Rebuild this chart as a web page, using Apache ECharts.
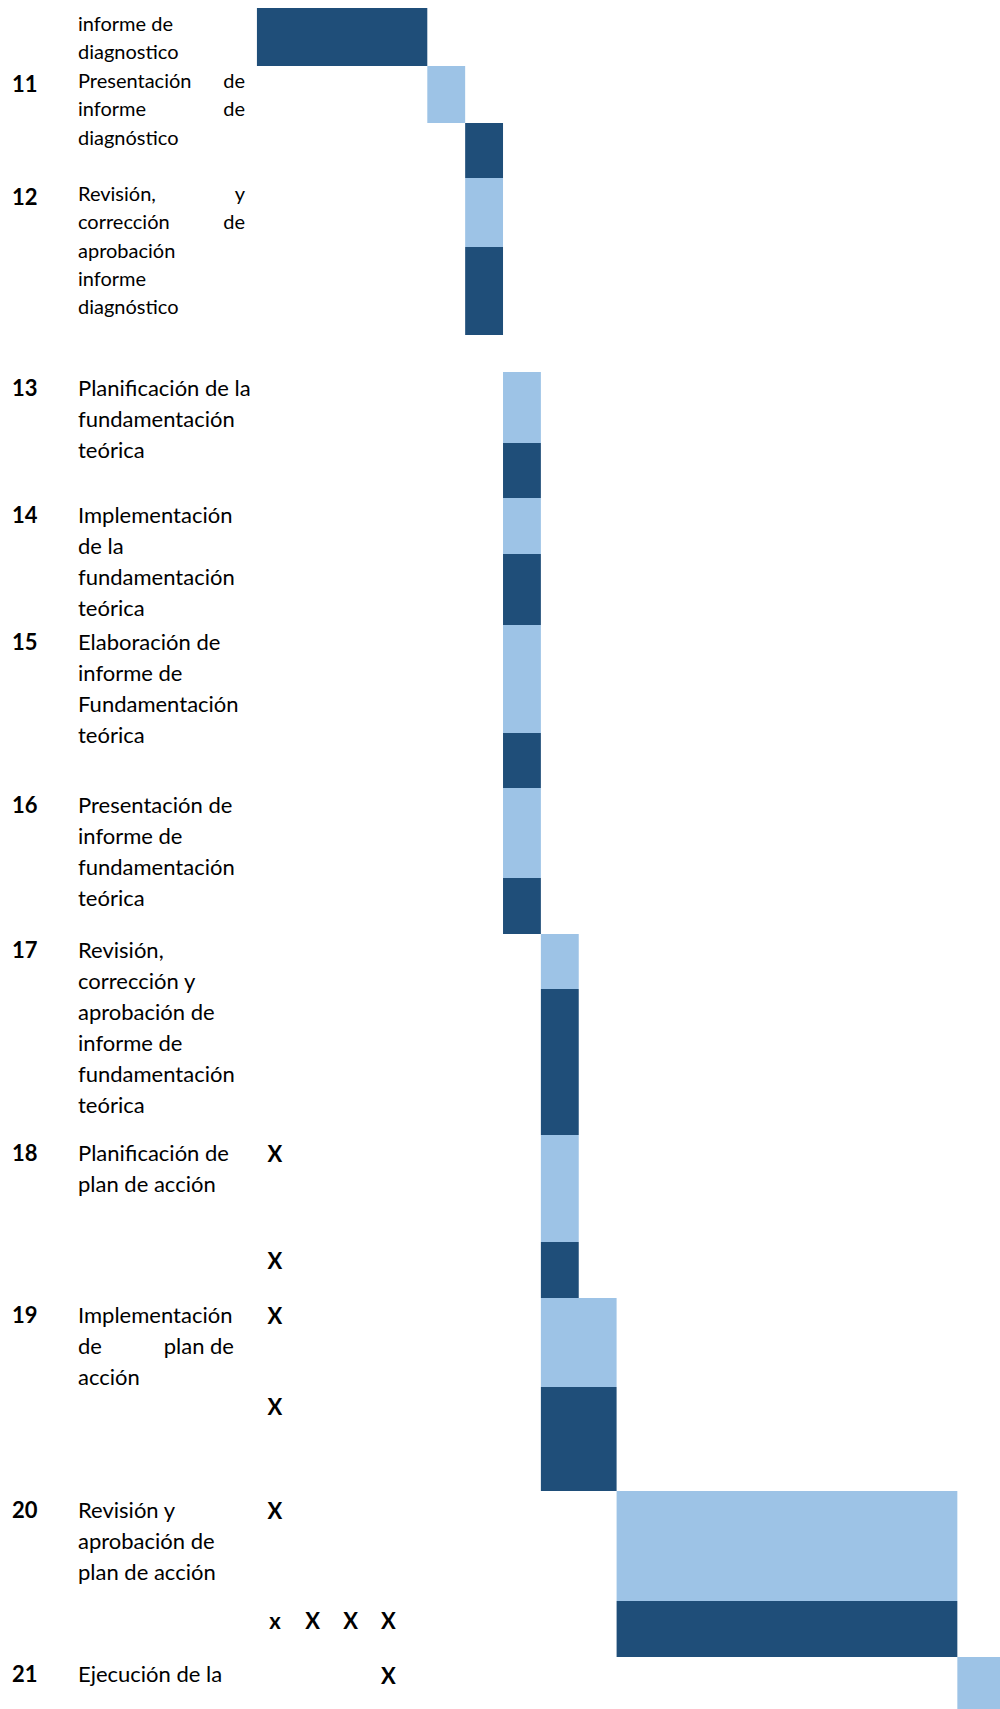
<!DOCTYPE html>
<html>
<head>
<meta charset="utf-8">
<script src="https://cdn.jsdelivr.net/npm/echarts@6/dist/echarts.min.js"></script>
<style>
html,body{margin:0;padding:0;background:#fff;}
#chart{width:1000px;height:1709px;}
</style>
</head>
<body>
<div id="chart"></div>
<script>
// ---- Data ----
// Weeks on the horizontal axis; vertical extent is the position (px) within the document table.
const barStart  = [0.5, 5, 6, 6, 6, 7, 7, 7, 7, 7, 7, 7, 7, 8, 8, 8, 8, 8, 8, 10, 10, 19];
const barEnd    = [5,   6, 7, 7, 7, 8, 8, 8, 8, 8, 8, 8, 8, 9, 9, 9, 9, 10, 10, 19, 19, 20.2];
const barTop    = [8,   66, 123, 178, 247, 372, 443, 498, 554, 625, 733, 788, 878, 934, 989, 1135, 1242, 1298, 1387, 1491, 1601, 1657];
const barBottom = [66, 123, 178, 247, 335, 443, 498, 554, 625, 733, 788, 878, 934, 989, 1135, 1242, 1298, 1387, 1491, 1601, 1657, 1712];
// 0 = executed (dark), 1 = planned (light)
const barKind   = [0, 1, 0, 1, 0, 1, 0, 1, 0, 1, 0, 1, 0, 1, 0, 1, 0, 1, 0, 1, 0, 1];

// "X" marks in the week columns
const markWeek = [1, 1, 1, 1, 1, 1, 2, 3, 4, 4];
const markPos  = [1153, 1260, 1315, 1406, 1510, 1620, 1620, 1620, 1620, 1675];
const markText = ['X', 'X', 'X', 'X', 'X', 'x', 'X', 'X', 'X', 'X'];

// Activities: number and description lines ("|" separates justified words)
const taskNumbers = ['', '11', '12', '13', '14', '15', '16', '17', '18', '19', '20', '21'];
const taskLines = [
  ['informe de', 'diagnostico'],
  ['Presentación|de', 'informe|de', 'diagnóstico'],
  ['Revisión,|y', 'corrección|de', 'aprobación', 'informe', 'diagnóstico'],
  ['Planificación de la', 'fundamentación', 'teórica'],
  ['Implementación', 'de la', 'fundamentación', 'teórica'],
  ['Elaboración de', 'informe de', 'Fundamentación', 'teórica'],
  ['Presentación de', 'informe de', 'fundamentación', 'teórica'],
  ['Revisión,', 'corrección y', 'aprobación de', 'informe de', 'fundamentación', 'teórica'],
  ['Planificación de', 'plan de acción'],
  ['Implementación', 'de|plan de', 'acción'],
  ['Revisión y', 'aprobación de', 'plan de acción'],
  ['Ejecución de la']
];

// ---- Layout (positions / styles) ----
const taskFirstLine = [23, 80, 193, 387, 514, 641, 804, 949, 1152, 1314, 1509, 1673];
const taskNumberPos = [0, 83, 196, 387, 514, 641, 804, 949, 1152, 1314, 1509, 1673];
const taskSmall     = [true, true, true, false, false, false, false, false, false, false, false, false];
const justifyRight  = [245, 245, 245, 234, 234, 234, 234, 234, 234, 234, 234, 234];
const lineGapSmall = 28.3, lineGapLarge = 31.1;
const fontSmall = '20px Lato', fontLarge = '22px Lato', fontBold = 'bold 22px Lato';
const colors = ['#1F4E79', '#9DC3E6'];

const chart = echarts.init(document.getElementById('chart'), null, {renderer: 'svg'});

const barData = barStart.map((s, i) => [s, barEnd[i], barTop[i], barBottom[i], barKind[i]]);
const markData = markWeek.map((w, i) => [w, markPos[i], i]);

const graphics = [];
taskNumbers.forEach((num, t) => {
  if (num) {
    graphics.push({type: 'text', x: 12, y: taskNumberPos[t],
      style: {text: num, font: fontBold, fill: '#000', align: 'left', verticalAlign: 'middle'}});
  }
  const gap = taskSmall[t] ? lineGapSmall : lineGapLarge;
  const font = taskSmall[t] ? fontSmall : fontLarge;
  taskLines[t].forEach((line, k) => {
    const y = taskFirstLine[t] + k * gap;
    const parts = line.split('|');
    graphics.push({type: 'text', x: 78, y: y,
      style: {text: parts[0], font: font, fill: '#000', align: 'left', verticalAlign: 'middle'}});
    if (parts.length > 1) {
      graphics.push({type: 'text', x: justifyRight[t], y: y,
        style: {text: parts[1], font: font, fill: '#000', align: 'right', verticalAlign: 'middle'}});
    }
  });
});

chart.setOption({
  animation: false,
  backgroundColor: '#fff',
  grid: {left: 238, top: 0, width: 757.2, height: 1709},
  xAxis: {type: 'value', min: 0, max: 20, show: false},
  yAxis: {type: 'value', min: 0, max: 1709, inverse: true, show: false},
  graphic: graphics,
  series: [
    {
      type: 'custom',
      clip: false,
      data: barData,
      renderItem: function (params, api) {
        const p0 = api.coord([api.value(0), api.value(2)]);
        const p1 = api.coord([api.value(1), api.value(3)]);
        return {
          type: 'rect',
          shape: {x: p0[0], y: p0[1], width: p1[0] - p0[0], height: p1[1] - p0[1]},
          style: {fill: colors[api.value(4)]}
        };
      }
    },
    {
      type: 'custom',
      clip: false,
      data: markData,
      renderItem: function (params, api) {
        const p = api.coord([api.value(0), api.value(1)]);
        return {
          type: 'text',
          x: p[0] - 1, y: p[1],
          style: {text: markText[api.value(2)], font: fontBold, fill: '#000', align: 'center', verticalAlign: 'middle'}
        };
      }
    }
  ]
});
</script>
</body>
</html>
